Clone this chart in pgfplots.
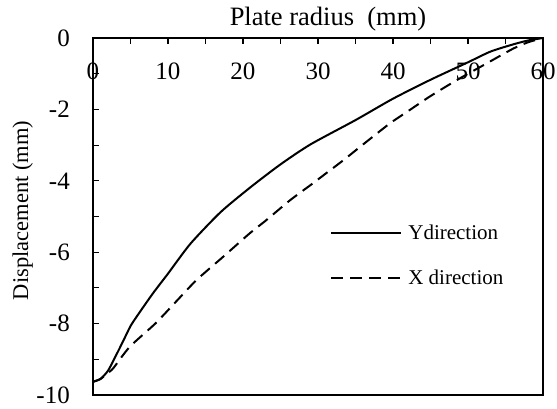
\documentclass[border=0pt]{standalone}
\usepackage{pgfplots}
\pgfplotsset{compat=1.18}
\usepackage{fontspec}
\setmainfont{Liberation Serif}
\begin{document}
\begin{tikzpicture}
\begin{axis}[
  scale only axis,
  width=450pt, height=357pt,
  xmin=0, xmax=60, ymin=-10, ymax=0,
  axis line style={line width=1.3pt},
  xtick={0,10,...,60}, xticklabels={0,10,20,30,40,50,60},
  minor xtick={5,15,...,55},
  ytick={-10,-8,...,0}, yticklabels={-10,-8,-6,-4,-2,0},
  minor ytick={-9,-7,...,-1},
  xtick pos=upper, ytick pos=left,
  xticklabel pos=upper,
  tick align=inside,
  major tick length=6pt, minor tick length=6pt,
  every tick/.style={black, line width=1.1pt},
  xticklabel style={anchor=center, yshift=-33pt, font=\fontsize{25}{28}\selectfont},
  yticklabel style={anchor=east, inner sep=0pt, xshift=-23pt, font=\fontsize{25}{28}\selectfont},
  xlabel={Plate radius\ \ (mm)},
  xlabel style={at={(axis description cs:0.5,1)}, anchor=base, yshift=13pt, xshift=10pt, font=\fontsize{26.5}{29}\selectfont},
  ylabel={Displacement (mm)},
  ylabel style={at={(axis description cs:-0.156,0.517)}, anchor=center, font=\fontsize{22.5}{25}\selectfont},
  legend style={draw=none, fill=none, inner sep=0pt, at={(0.527,0.39)}, anchor=west,
    font=\fontsize{21}{23}\selectfont, row sep=25pt,
    /tikz/every odd column/.append style={column sep=4pt}},
  legend cell align=left,
  legend image code/.code={\draw[#1] (0pt,0pt) -- (70pt,0pt);},
]
\coordinate (bl) at (axis description cs:0,0);
\addplot[black, line width=2pt, smooth, tension=0.4] coordinates {
(0,-9.63) (1,-9.55) (2,-9.32) (3,-8.92) (4,-8.5) (5,-8.07) (6,-7.75) (8,-7.15)
(10,-6.6) (13,-5.76) (17,-4.88) (21,-4.18) (25,-3.54) (29,-2.98) (35,-2.3)
(40,-1.7) (45,-1.17) (50,-0.68) (53,-0.38) (56,-0.18) (58,-0.07) (60,0)
};
\addlegendentry{Ydirection}
\addplot[black, line width=2pt, dash pattern=on 12pt off 7pt, smooth, tension=0.4] coordinates {
(0,-9.63) (1,-9.55) (2,-9.38) (2.7,-9.25) (4.9,-8.65) (8.3,-8.0) (11,-7.4)
(13.8,-6.78) (17.4,-6.12) (20.9,-5.47) (23,-5.12) (26.3,-4.54) (29,-4.12)
(31.2,-3.77) (33.4,-3.42) (36.5,-2.9) (39.6,-2.39) (42,-2.05) (44.9,-1.64) (48.5,-1.18)
(52.5,-0.71) (56,-0.3) (58,-0.12) (60,0)
};
\addlegendentry{X direction}
\end{axis}
\pgfresetboundingbox
\path (bl) ++(-93pt,-13pt) rectangle ++(557pt,408pt);
\end{tikzpicture}
\end{document}
